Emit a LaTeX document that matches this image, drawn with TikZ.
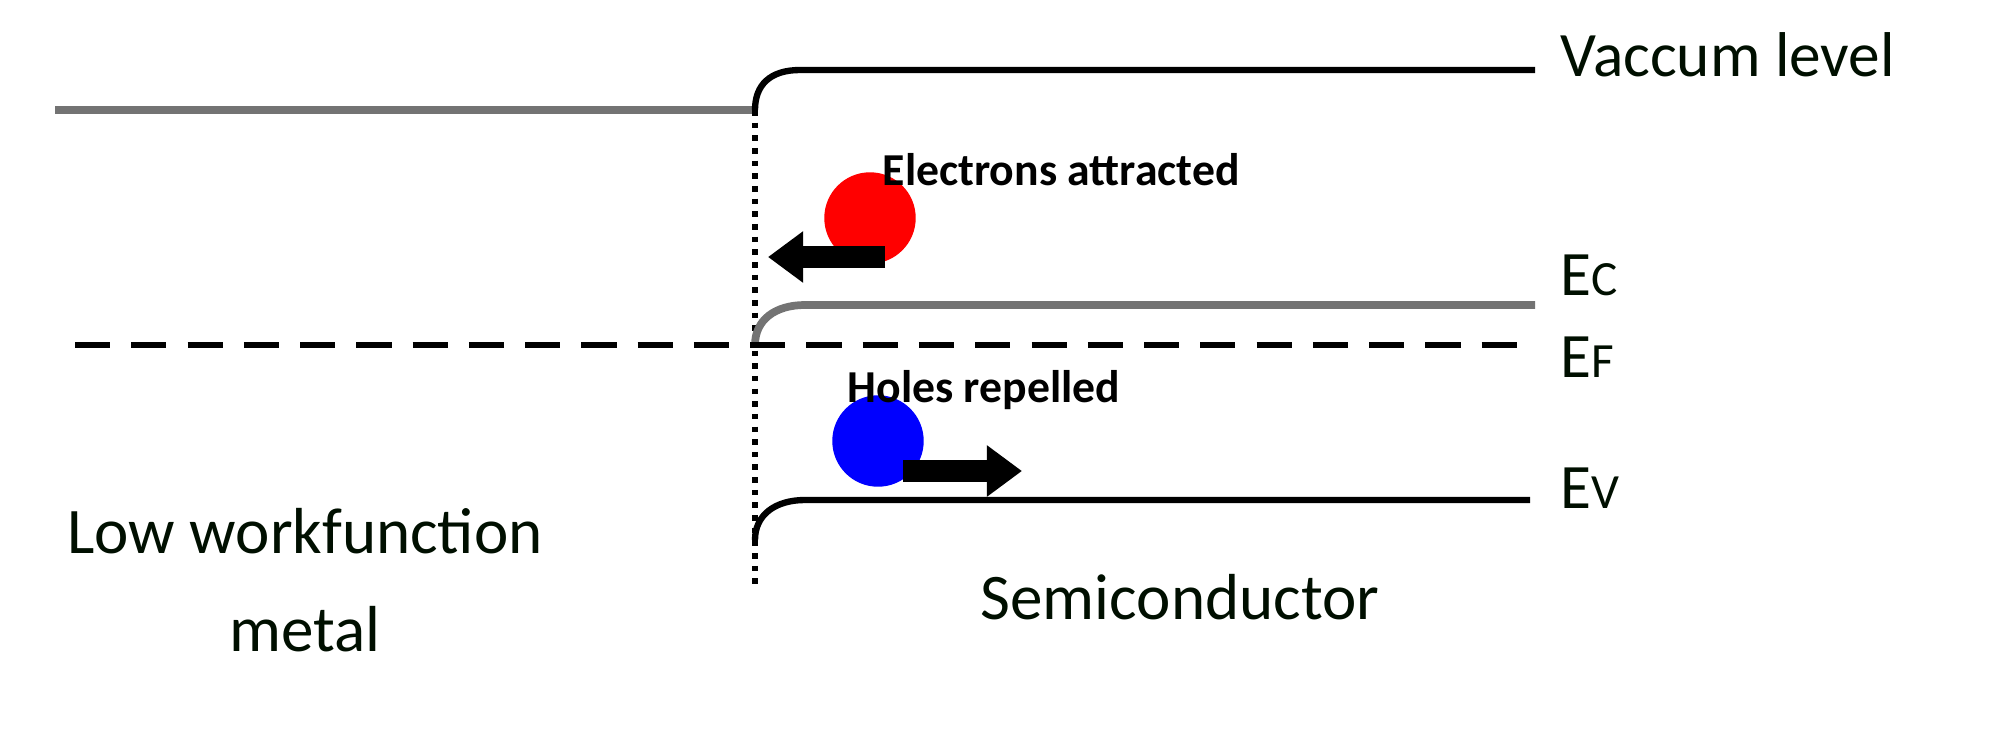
\documentclass[tikz,border=0pt]{standalone}
\usepackage{fontspec}
\setmainfont{Carlito}
\usetikzlibrary{arrows.meta}
\begin{document}
\begin{tikzpicture}[x=0.01cm,y=-0.01cm,
  band/.style={line width=2.2pt,color=black!55},
  lbl/.style={anchor=west,inner sep=0pt,font=\fontsize{18}{20}\selectfont,text=black!85!green!40!black},
  small/.style={anchor=west,inner sep=0pt,font=\bfseries\fontsize{13}{15}\selectfont},
  big/.style={inner sep=0pt,font=\fontsize{18.5}{22}\selectfont,text=black!85!green!40!black},
  fat/.style={line width=6pt,-{Triangle[length=10pt,width=14pt]}}]
\useasboundingbox (0,0) rectangle (2005,733);
% metal vacuum
\coordinate (m1) at (55,110); \coordinate (m2) at (752,110);
\draw[band] (m1) -- (m2);
% dotted interface
\coordinate (d1) at (755,110); \coordinate (d2) at (755,590);
\draw[line width=1.6pt,dotted] (d1) -- (d2);
% vacuum level semiconductor
\coordinate (v0) at (755,110); \coordinate (v1) at (800,70); \coordinate (v2) at (1535,70);
\draw[line width=1.8pt] (v0) .. controls (755,85) and (770,70) .. (v1) -- (v2);
\node[lbl] (vl) at (1560,55) {Vaccum level};
% Ec
\coordinate (c0) at (755,345); \coordinate (c1) at (805,305); \coordinate (c2) at (1535,305);
\draw[band] (c0) .. controls (755,320) and (775,305) .. (c1) -- (c2);
\node[lbl] (ec) at (1560,275) {E{\fontsize{14}{16}\selectfont C}};
% EF
\coordinate (f1) at (75,345); \coordinate (f2) at (1535,345);
\draw[line width=1.6pt,dash pattern=on 10pt off 6pt] (f1) -- (f2);
\node[lbl] (ef) at (1560,357) {E{\fontsize{14}{16}\selectfont F}};
% Ev
\coordinate (e0) at (755,540); \coordinate (e1) at (805,500); \coordinate (e2) at (1530,500);
\draw[line width=1.8pt] (e0) .. controls (755,515) and (775,500) .. (e1) -- (e2);
\node[lbl] (ev) at (1560,488) {E{\fontsize{14}{16}\selectfont V}};
% electrons
\node[circle,fill=red,minimum size=26pt,inner sep=0pt] (el) at (870,218) {};
\node[small] (elt) at (882,170) {Electrons attracted};
\coordinate (a1) at (885,257); \coordinate (a2) at (768,257);
\draw[fat] (a1) -- (a2);
% holes
\node[circle,fill=blue,minimum size=26pt,inner sep=0pt] (ho) at (878,441) {};
\node[small] (hot) at (847,390) {Holes repelled};
\coordinate (b1) at (903,471); \coordinate (b2) at (1022,471);
\draw[fat] (b1) -- (b2);
% labels
\node[big,align=center] (mt) at (305,580) {Low workfunction\\[6pt]metal};
\node[big] (sc) at (1180,597) {Semiconductor};
\end{tikzpicture}
\end{document}
